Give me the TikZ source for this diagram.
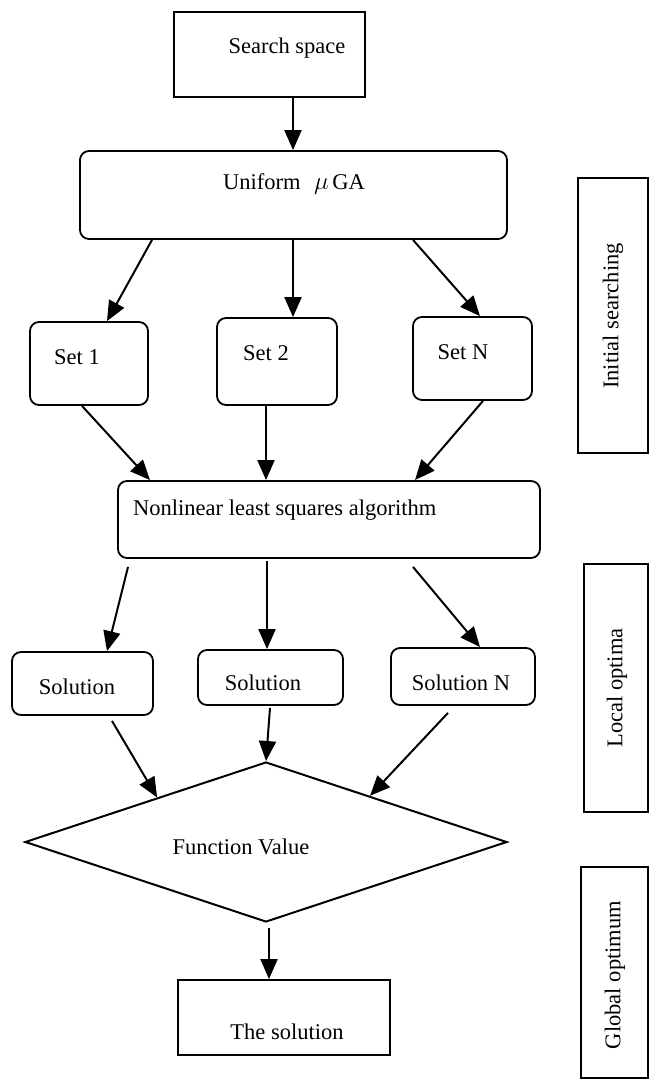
\documentclass[tikz,border=0pt]{standalone}
\usepackage{fontspec}
\setmainfont{Liberation Serif}
\usetikzlibrary{arrows.meta,shapes.geometric,calc,fit}
\begin{document}
\begin{tikzpicture}[x=1pt,y=-1pt,
  box/.style={draw, line width=1.8pt, inner sep=0pt},
  rbox/.style={box, rounded corners=9pt},
  txt/.style={font=\fontsize{22.5}{27}\selectfont, inner sep=0pt},
  arr/.style={line width=2pt, -{Triangle[length=20pt,width=17pt]}}]
\useasboundingbox (0,0) rectangle (650,1080);
% boxes
\node[box, fit={(174,12) (365,97)}] (ss) {};
\node[txt] (sst) at (287,48) {Search space};
\node[rbox, fit={(80,151) (507,239)}] (uga) {};
\node[txt] (ugat) at (294,184) {Uniform\hspace{0.6em}{\fontsize{30}{30}\selectfont$\mu$}\,GA};
\node[rbox, fit={(30,322) (148,405)}] (set1) {};
\node[txt] (set1t) at (77,357) {Set 1};
\node[rbox, fit={(217,318) (337,405)}] (set2) {};
\node[txt] (set2t) at (266,353) {Set 2};
\node[rbox, fit={(413,317) (532,400)}] (setn) {};
\node[txt] (setnt) at (463,352) {Set N};
\node[rbox, fit={(118,481) (540,558)}] (nls) {};
\node[txt, anchor=west] (nlst) at (133,510) {Nonlinear least squares algorithm};
\node[rbox, fit={(12,652) (153,715)}] (s1) {};
\node[txt] (s1t) at (77,687) {Solution};
\node[rbox, fit={(198,650) (343,705)}] (s2) {};
\node[txt] (s2t) at (263,683) {Solution};
\node[rbox, fit={(391,648) (535,705)}] (sn) {};
\node[txt] (snt) at (461,683) {Solution N};
\node[draw, diamond, line width=2pt, inner sep=0pt, minimum width=482pt, minimum height=160pt] (dia) at (266,842) {};
\node[txt] (diat) at (241,847) {Function Value};
\node[box, fit={(178,980) (390,1055)}] (sol) {};
\node[txt] (solt) at (287,1032) {The solution};
% side labels
\node[box, fit={(578,178) (648,453)}] (init) {};
\node[txt, rotate=90] (initt) at (613,316) {Initial searching};
\node[box, fit={(584,564) (648,812)}] (loc) {};
\node[txt, rotate=90] (loct) at (617,688) {Local optima};
\node[box, fit={(581,867) (648,1078)}] (glob) {};
\node[txt, rotate=90] (globt) at (615,975) {Global optimum};
% arrows
\draw[arr] ([xshift=23.5pt]ss.south) -- ([xshift=-0.5pt]uga.north);
\draw[arr] ([xshift=-141.5pt]uga.south) -- ([xshift=18pt]set1.north);
\draw[arr] ([xshift=-0.5pt]uga.south) -- ([xshift=16pt]set2.north);
\draw[arr] ([xshift=119.5pt]uga.south) -- ([xshift=7.5pt]setn.north);
\draw[arr] ([xshift=-7pt]set1.south) -- ([xshift=-179pt]nls.north);
\draw[arr] ([xshift=-11pt]set2.south) -- ([xshift=-63pt]nls.north);
\draw[arr] ([xshift=10.5pt]setn.south) -- ([xshift=86pt]nls.north);
\draw[arr] ([xshift=-201pt,yshift=-8pt]nls.south) -- ([xshift=24.5pt]s1.north);
\draw[arr] ([xshift=-62pt,yshift=-2pt]nls.south) -- ([xshift=-3.5pt]s2.north);
\draw[arr] ([xshift=84pt,yshift=-8pt]nls.south) -- ([xshift=17pt]sn.north);
\draw[arr] ([xshift=29.5pt,yshift=-5pt]s1.south) -- ($(dia.west)!0.55!(dia.north)$);
\draw[arr] ([xshift=-0.5pt,yshift=-2pt]s2.south) -- (dia.north);
\draw[arr] ([xshift=-15pt,yshift=-7pt]sn.south) -- ($(dia.north)!0.43!(dia.east)$);
\draw[arr] ([xshift=3pt,yshift=-5pt]dia.south) -- ([xshift=-15pt]sol.north);
\end{tikzpicture}
\end{document}
